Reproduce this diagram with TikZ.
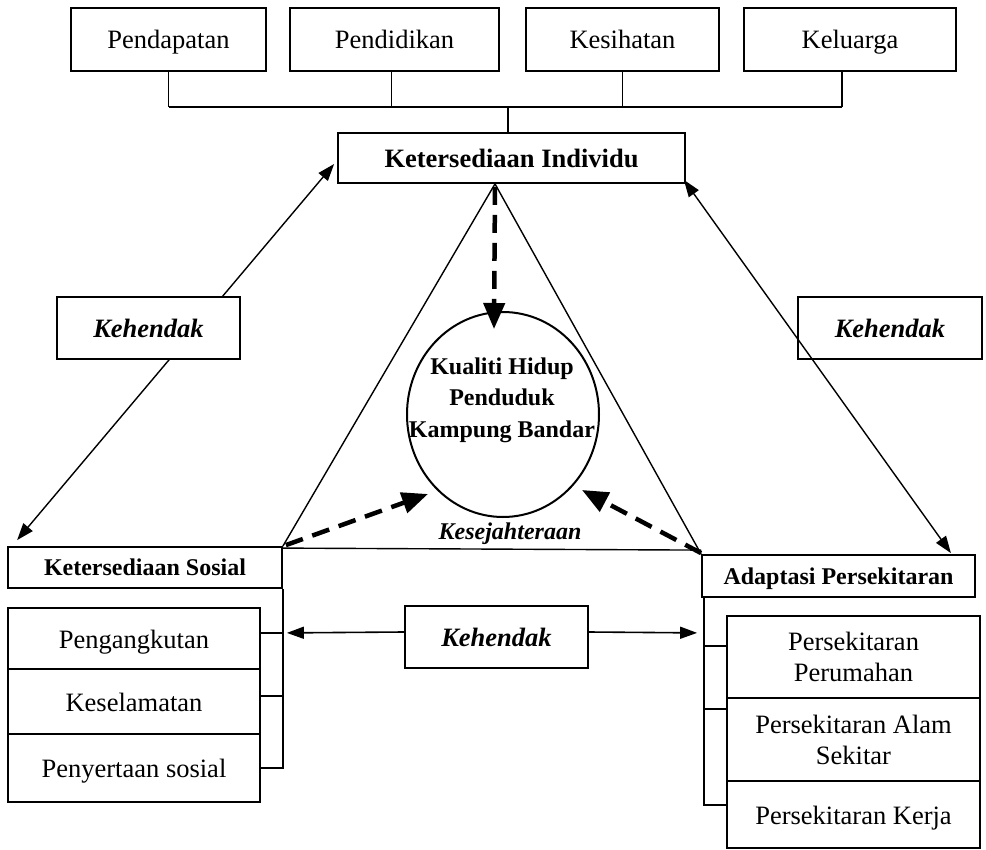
\documentclass[tikz,border=0pt]{standalone}
\usepackage{fontspec}
\setmainfont{Liberation Serif}
\usetikzlibrary{arrows.meta,shapes.geometric,calc}
\begin{document}
\begin{tikzpicture}[x=1pt,y=-1pt,
  box/.style={draw, line width=1.8pt, fill=white, inner sep=0pt, align=center},
  reg/.style={font=\fontsize{26.5}{31}\selectfont},
  one/.style={text height=22pt, text depth=3pt},
  onesm/.style={text height=19.5pt, text depth=3pt},
  hb/.style={font=\fontsize{24}{31.5}\selectfont\bfseries},
  hbl/.style={font=\fontsize{26.5}{31}\selectfont\bfseries},
  hbi/.style={font=\fontsize{26.5}{31}\selectfont\bfseries\itshape},
  sbi/.style={font=\fontsize{24}{31}\selectfont\bfseries\itshape},
  thinline/.style={line width=1.4pt},
  thinarrow/.style={line width=1.4pt, arrows={Triangle[length=17pt,width=12pt]-Triangle[length=17pt,width=12pt]}},
  onearrow/.style={line width=1.6pt, -{Triangle[length=17pt,width=12pt]}},
  dasharrow/.style={line width=4.5pt, dash pattern=on 18pt off 10pt, -{Triangle[length=26pt,width=21pt]}}
]
\fill[white] (0,0) rectangle (986,850);
\useasboundingbox (0,0) rectangle (986,850);

% top boxes
\node[box, reg, one, minimum width=195pt, minimum height=63pt] (pend)  at (168.5,39.5) {Pendapatan};
\node[box, reg, one, minimum width=209pt, minimum height=63pt] (pendi) at (394.5,39.5) {Pendidikan};
\node[box, reg, one, minimum width=193pt, minimum height=63pt] (kesi)  at (622.5,39.5) {Kesihatan};
\node[box, reg, one, minimum width=212pt, minimum height=63pt] (kelu)  at (850,39.5) {Keluarga};

\node[box, hbl, one, minimum width=347pt, minimum height=50pt] (ki) at (511.5,158) {Ketersediaan Individu};

% tree
\coordinate (bus) at (508,107);
\draw[thinline] (pend.south) -- (pend.south |- bus);
\draw[thinline] ([xshift=-3pt]pendi.south) -- ([xshift=-3pt]pendi.south |- bus);
\draw[thinline] (kesi.south) -- (kesi.south |- bus);
\draw[thinline] ([xshift=-8pt]kelu.south) -- ([xshift=-8pt]kelu.south |- bus);
\draw[line width=2pt] (pend.south |- bus) -- ([xshift=-8pt]kelu.south |- bus);
\draw[thinline] (bus) -- (bus |- ki.north);

% circle
\node[ellipse, draw, line width=2pt, minimum width=192pt, minimum height=205pt, inner sep=0pt] (kh) at (503,414.5) {};
\node[hb, align=center] (khtext) at (502,400) {Kualiti Hidup\\Penduduk\\Kampung Bandar};

% side boxes
\node[box, hb, onesm, minimum width=274pt, minimum height=41pt] (ks) at (145,567.5) {Ketersediaan Sosial};
\node[box, hb, onesm, minimum width=273pt, minimum height=42pt] (ap) at (838.5,576) {Adaptasi Persekitaran};

% left list
\node[box, reg, one, minimum width=252pt, minimum height=61pt] (peng)  at (134,638.5) {Pengangkutan};
\node[box, reg, one, minimum width=252pt, minimum height=65pt] (kesel) at (134,701.5) {Keselamatan};
\node[box, reg, one, minimum width=252pt, minimum height=68pt] (peny)  at (134,768) {Penyertaan sosial};

% right list
\node[box, reg, minimum width=253pt, minimum height=82pt] (pp) at (853.5,657) {Persekitaran\\Perumahan};
\node[box, reg, minimum width=253pt, minimum height=83pt] (pa) at (853.5,739.5) {Persekitaran Alam\\Sekitar};
\node[box, reg, one, minimum width=253pt, minimum height=67pt] (pk) at (853.5,814.5) {Persekitaran Kerja};

% brackets
\draw[line width=1.8pt] (ks.south east) |- (peny.east);
\draw[line width=1.8pt] ([yshift=5.5pt]peng.east) -- ++(22,0);
\draw[line width=1.8pt] ([yshift=5.5pt]kesel.east) -- ++(22,0);
\draw[line width=1.8pt] ([xshift=3pt]ap.south west) |- ([yshift=9.5pt]pk.west);
\draw[line width=1.8pt] ([yshift=11pt]pp.west) -- ++(-22,0);
\draw[line width=1.8pt] ([yshift=30.5pt]pa.west) -- ++(-22,0);

% triangle
\coordinate (apex) at ($(ki.south)+(-16.5,0)$);
\draw[thinline] (apex) -- (ks.north east);
\draw[thinline] (apex) -- (ap.north west);
\draw[thinline] ([yshift=-2pt]ks.north east) -- ([yshift=4pt]ap.north west);

% dashed arrows
\coordinate (tipT) at ($(kh.north)+(-9,18)$);
\coordinate (tipL) at ($(kh.center)+(-75,79.5)$);
\coordinate (tipR) at ($(kh.center)+(79,75.5)$);
\draw[dasharrow] ([yshift=-3pt]apex) -- (tipT);
\draw[dasharrow] ([xshift=3pt,yshift=1pt]ks.north east) -- (tipL);
\draw[dasharrow] ([yshift=1pt]ap.north west) -- (tipR);

% Kehendak left (line hidden behind box)
\draw[thinarrow] ($(ks.north west)+(10,-6)$) -- ($(ki.west)+(-3,6)$);
\node[box, hbi, one, minimum width=183pt, minimum height=62pt] (kehL) at (148.5,328) {Kehendak};

% Kehendak right (line over box)
\node[box, hbi, one, minimum width=184pt, minimum height=62pt] (kehR) at (890,328) {Kehendak};
\draw[thinarrow] ($(ki.south east)+(-2,-4)$) -- ($(ap.north east)+(-25,-1)$);

% Kehendak bottom
\node[box, hbi, one, minimum width=183pt, minimum height=62pt] (kehB) at (496.5,637) {Kehendak};
\draw[onearrow] ($(kehB.west)+(0,-5)$) -- ($(ks.south east)+(4,44)$);
\draw[onearrow] ($(kehB.east)+(0,-5)$) -- ($(ap.south west)+(-4,35)$);

% label
\node[sbi] (kes) at (510,534) {Kesejahteraan};
\end{tikzpicture}
\end{document}
